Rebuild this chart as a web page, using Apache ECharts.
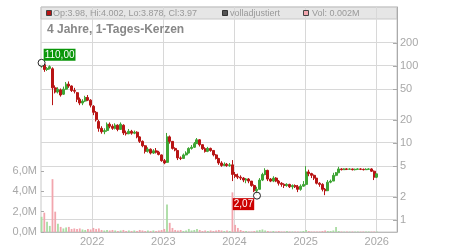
<!DOCTYPE html>
<html><head><meta charset="utf-8">
<script src="https://cdn.jsdelivr.net/npm/echarts@6/dist/echarts.min.js"></script>
<style>html,body{margin:0;padding:0;background:#fff}#c{width:450px;height:250px}</style>
</head><body><div id="c"></div>
<script>
// two-week periods starting here
const periodStart = '2021-04-16';
const periodDays = 14;

const opens = [100,104,90,93,92,52,46,49,43,50,58,55,48,45,37,33,35,39,36,30,25,19,15.5,14,14.5,17.5,16.5,15.5,17,15,17,13.5,13.2,14.2,13.4,13.8,12,10.5,9.2,7.8,8.3,7.4,7.9,7.6,7,5.9,5.6,12,10.5,8.5,8,6.4,6.3,7,7.4,8.5,8.8,9.8,11,9.5,8.4,7.8,8.5,8,7,6.3,5.5,5.1,5.3,5.1,5.2,3.9,3.7,3.6,3.5,3.3,3.4,3.2,2.8,2.4,2.5,3.3,3.9,4.4,3.4,3.2,3.5,3.2,3.0,2.9,2.8,2.9,2.7,2.8,2.7,2.5,2.75,2.9,4.2,4.0,3.8,3.5,3.0,2.9,2.5,2.4,3.1,3.2,3.8,4.1,4.6,4.5,4.6,4.55,4.6,4.5,4.55,4.6,4.55,4.5,4.55,4.6,4.3,3.6];
const closes = [105,90,93,98,52,46,50,42,50,58,55,48,47,37,33,35,39,36,31,25,20,15.5,14,14.5,17.5,16.5,15.5,17,15,17.5,13.5,13.2,14.2,13.4,13.8,12,10.5,9.2,7.8,8.3,7.4,7.9,7.6,7.1,5.9,5.5,12,10.5,8.5,8.1,6.4,6.3,7,7.4,8.5,8.8,9.8,11,9.5,8.4,7.8,8.5,8,7,6.3,5.5,5.1,5.3,5.1,5.2,3.9,3.7,3.6,3.5,3.3,3.4,3.2,2.8,2.4,2.5,3.3,3.9,4.4,3.4,3.2,3.5,3.2,3.0,2.9,2.8,2.9,2.7,2.8,2.7,2.5,2.75,2.9,4.2,4.0,3.8,3.5,3.0,2.9,2.5,2.4,3.1,3.2,3.8,4.1,4.6,4.5,4.6,4.55,4.6,4.5,4.55,4.6,4.55,4.5,4.55,4.6,4.3,3.6,3.97];
const lows = [95,84,86,90,31,44,44,40,42,49,52,46,44,34,31,31,34,35,29,23,19,14,13.2,13,14,15.5,14.8,15,14.2,14.8,12.7,12.5,13,12.8,13,11.5,10,8.8,7.3,7.5,7.1,7.2,7.3,6.9,5.7,5.3,5.5,9.8,8.2,7.8,6,6,6.2,6.9,7.3,8.2,8.6,9.8,9,8.1,7.5,7.6,7.7,6.7,6.1,5.2,4.9,5,4.9,4.9,3.2,3.5,3.4,3.3,3.1,3.0,3.0,2.7,2.3,2.07,2.5,3.2,3.8,3.2,3.1,3.1,3.1,2.8,2.7,2.6,2.7,2.6,2.5,2.6,2.3,2.4,2.7,2.8,3.7,3.5,3.3,2.9,2.7,2.35,2.1,2.4,3.0,3.2,3.7,4.1,4.4,4.45,4.45,4.5,4.4,4.4,4.5,4.45,4.4,4.45,4.5,4.2,3.3,3.5];
const highs = [110,106,97,102,96,56,53,51,54,62,63,56,52,46,39,37,41,42,37,31,26,20,16.5,15.5,18.5,18.5,17.5,18,17.5,18.5,17.5,14.5,15.2,14.8,14.5,14.2,12.2,10.8,9.4,8.8,8.5,8.3,8.6,7.9,7.1,6.2,13.5,12.5,10.6,8.8,8.1,6.7,7.3,7.8,8.8,9.4,10.3,11.6,11.2,9.6,8.8,8.9,8.7,8.1,7.2,6.4,5.8,5.6,5.5,5.5,6.0,4.2,4.0,3.8,3.6,3.5,3.5,3.2,2.9,2.7,3.5,4.1,4.7,4.5,3.5,3.7,3.6,3.3,3.1,3.0,3.0,2.95,2.9,2.9,2.85,2.9,3.2,5.0,4.5,4.1,3.9,3.5,3.1,3.0,2.6,3.3,3.35,4.1,4.2,4.9,4.7,4.7,4.7,4.7,4.65,4.65,4.7,4.7,4.65,4.7,4.7,4.7,4.4,4.0];
// volume in millions
const volumes = [1.5,1.9,1.0,0.6,5.2,2.0,0.8,0.5,0.35,0.45,0.5,0.3,0.35,0.3,0.35,0.25,0.2,0.3,0.25,0.4,0.3,0.35,0.2,0.15,0.2,0.15,0.2,0.15,0.1,0.15,0.2,0.1,0.15,0.1,0.15,0.1,0.2,0.15,0.1,0.15,0.1,0.15,0.1,0.15,0.2,0.3,2.7,0.9,0.4,0.2,0.15,0.2,0.1,0.15,0.3,0.15,0.2,0.3,0.2,0.1,0.15,0.1,0.15,0.1,0.15,0.2,0.15,0.1,0.15,0.1,3.9,0.7,0.4,0.2,0.1,0.1,0.05,0.05,0.1,0.15,0.2,0.25,0.15,0.1,0.05,0.1,0.05,0.1,0.05,0.05,0.1,0.05,0.05,0.05,0.05,0.05,0.1,0.2,0.1,0.05,0.05,0.05,0.05,0.1,0.15,0.1,0.1,0.15,0.5,0.1,0.05,0.04,0.05,0.04,0.05,0.04,0.05,0.04,0.05,0.04,0.05,0.04,0.05,0.05];

const yearTicks = ['2022-01-01','2023-01-01','2024-01-01','2025-01-01','2026-01-01'];
const priceTicks = [1,2,5,10,20,50,100,200];

const UP = '#3fa535', DOWN = '#b81414', VUP = '#a9dca2', VDOWN = '#f2a6ae';
const FONT = '"Liberation Sans", Arial, sans-serif';
const LBL = '#a8a8a8';
const GRIDC = '#d8d8d8';

const t0 = Date.parse(periodStart + 'T00:00:00Z');
const dates = opens.map((_, i) => t0 + i * periodDays * 86400000);
const candles = dates.map((d, i) => [d, opens[i], closes[i], lows[i], highs[i]]);
const vols = dates.map((d, i) => [d, volumes[i]]);
const yearTs = yearTicks.map(s => Date.parse(s + 'T00:00:00Z'));
const xMin = Date.parse('2021-04-13T00:00:00Z');
const xMax = Date.parse('2026-04-15T00:00:00Z');
const yMin = 0.698, yMax = 583.6;
const fmtNum = v => v.toFixed(2).replace('.', ',');
const crisp = v => Math.round(v - 0.5) + 0.5;

const vGrid = {type: 'custom', xAxisIndex: 0, yAxisIndex: 0, silent: true, z: 0,
  data: yearTs.map(t => [t, yMin]),
  renderItem: (params, api) => {
    const t = api.value(0);
    const a = api.coord([t, yMin]), b = api.coord([t, yMax]);
    const x = crisp(a[0]);
    return {type: 'line', shape: {x1: x, y1: a[1], x2: x, y2: b[1]}, style: {stroke: GRIDC, lineWidth: 1}};
  }};

const headerElements = [
  {type: 'rect', shape: {x: 41, y: 7, width: 356, height: 12}, style: {fill: '#e6e6e6', stroke: '#c8c8c8'}, z: -1, silent: true},
  {type: 'rect', shape: {x: 46.5, y: 10.5, width: 5, height: 5}, style: {fill: '#b81414', stroke: '#444', lineWidth: 1}, z: 10},
  {type: 'text', x: 53, y: 13.5, style: {text: 'Op:3.98, Hi:4.002, Lo:3.878, Cl:3.97', fill: '#999', font: '9px ' + FONT, textVerticalAlign: 'middle'}, z: 10},
  {type: 'rect', shape: {x: 222.5, y: 10.5, width: 5, height: 5}, style: {fill: '#555', stroke: '#333', lineWidth: 1}, z: 10},
  {type: 'text', x: 230, y: 13.5, style: {text: 'volladjustiert', fill: '#999', font: '9px ' + FONT, textVerticalAlign: 'middle'}, z: 10},
  {type: 'rect', shape: {x: 303.5, y: 10.5, width: 5, height: 5}, style: {fill: '#f2a6ae', stroke: '#444', lineWidth: 1}, z: 10},
  {type: 'text', x: 312, y: 13.5, style: {text: 'Vol: 0.002M', fill: '#999', font: '9px ' + FONT, textVerticalAlign: 'middle'}, z: 10},
  {type: 'text', x: 47, y: 29.5, style: {text: '4 Jahre, 1-Tages-Kerzen', fill: '#888', font: 'bold 12px ' + FONT, textVerticalAlign: 'middle'}, z: 10}
];

const chart = echarts.init(document.getElementById('c'), null, {renderer: 'canvas'});
chart.setOption({
  animation: false,
  backgroundColor: '#fff',
  textStyle: {fontFamily: FONT},
  grid: [
    {left: 41, right: 53, top: 7, bottom: 18, show: true, borderColor: '#c8c8c8', borderWidth: 1, backgroundColor: 'transparent'},
    {left: 41, right: 53, top: 171, bottom: 18}
  ],
  xAxis: [
    {type: 'value', gridIndex: 0, min: xMin, max: xMax, scale: true,
     axisLine: {show: true, lineStyle: {color: '#bbb'}},
     axisTick: {show: false, customValues: yearTs},
     axisLabel: {customValues: yearTs, color: LBL, fontSize: 11, margin: 4, fontFamily: FONT,
       formatter: v => String(new Date(v).getUTCFullYear())},
     splitLine: {show: false}},
    {type: 'value', gridIndex: 1, min: xMin, max: xMax, scale: true, show: false}
  ],
  yAxis: [
    {type: 'log', gridIndex: 0, position: 'right', min: yMin, max: yMax, logBase: 10,
     axisLine: {show: true, lineStyle: {color: '#aaa'}},
     axisTick: {show: true, inside: true, length: 4, customValues: priceTicks, lineStyle: {color: '#aaa'}},
     axisLabel: {customValues: priceTicks, color: LBL, fontSize: 11, margin: 3, fontFamily: FONT,
       formatter: v => String(Math.round(v))},
     splitLine: {show: false}},
    {type: 'value', gridIndex: 1, position: 'left', min: 0, max: 6, interval: 2,
     axisLine: {show: false},
     axisTick: {show: true, inside: true, length: 3, lineStyle: {color: '#aaa'}},
     axisLabel: {color: LBL, fontSize: 11, margin: 4, fontFamily: FONT,
       formatter: v => v.toFixed(1).replace('.', ',') + 'M'},
     splitLine: {show: false}}
  ],
  series: [vGrid,
    {type: 'bar', xAxisIndex: 1, yAxisIndex: 1, data: vols, barWidth: 1.8, z: 1,
     itemStyle: {color: p => closes[p.dataIndex] >= opens[p.dataIndex] ? VUP : VDOWN}},
    {type: 'candlestick', xAxisIndex: 0, yAxisIndex: 0, data: candles, barWidth: 2.5,
     encode: {x: 0, y: [1, 2, 3, 4]}, z: 3,
     itemStyle: {color: UP, color0: DOWN, borderColor: UP, borderColor0: DOWN, borderWidth: 1},
     markPoint: {
       symbol: 'circle', symbolSize: 7, animation: false,
       itemStyle: {color: 'rgba(255,255,255,0.9)', borderColor: '#222', borderWidth: 1},
       data: [
         {type: 'max', valueDim: 'highest',
          label: {show: true, position: 'inside', offset: [18, -8], formatter: p => fmtNum(p.value),
            color: '#fff', backgroundColor: '#0a960a', padding: [1, 1, 0, 1], fontSize: 10, lineHeight: 11, fontFamily: FONT}},
         {type: 'min', valueDim: 'lowest',
          label: {show: true, position: 'inside', offset: [-13.5, 8.5], formatter: p => fmtNum(p.value),
            color: '#fff', backgroundColor: '#cc0000', padding: [1, 1, 0, 1], fontSize: 10, lineHeight: 11, fontFamily: FONT}}
       ]
     }}
  ],
  graphic: {elements: headerElements}
});

// horizontal price grid lines, positioned through the price axis scale
const hLines = priceTicks.map(v => {
  const p = chart.convertToPixel({xAxisIndex: 0, yAxisIndex: 0}, [xMin, v]);
  const q = chart.convertToPixel({xAxisIndex: 0, yAxisIndex: 0}, [xMax, v]);
  const y = crisp(p[1]);
  return {type: 'line', shape: {x1: p[0], y1: y, x2: q[0], y2: y}, style: {stroke: GRIDC, lineWidth: 1}, z: 0, silent: true};
});
chart.setOption({graphic: {elements: headerElements.concat(hLines)}}, {replaceMerge: ['graphic']});
</script></body></html>
